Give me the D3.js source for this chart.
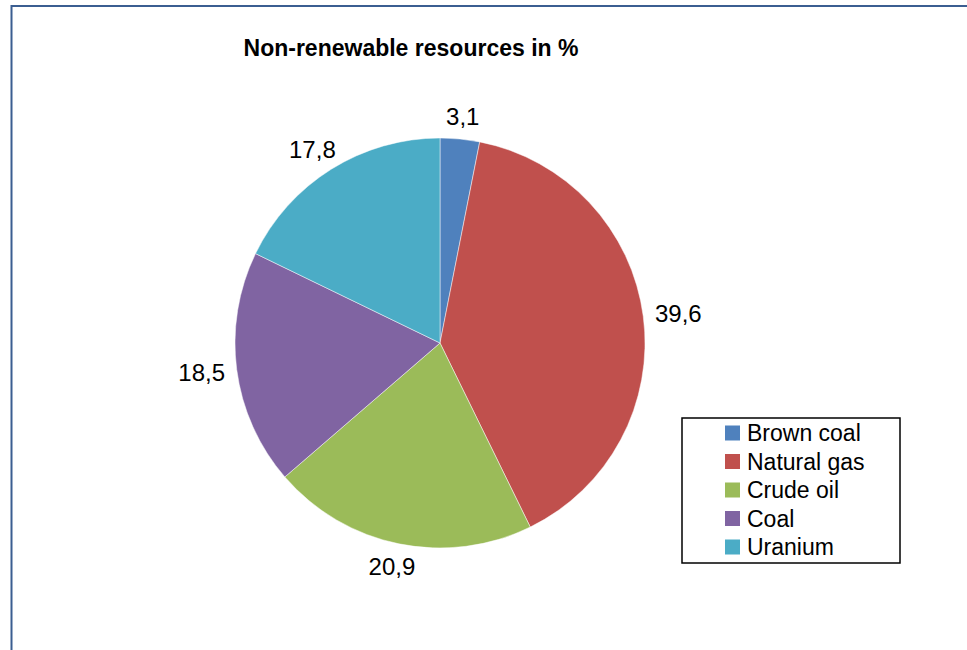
<!DOCTYPE html>
<html>
<head>
<meta charset="utf-8">
<script src="https://cdn.jsdelivr.net/npm/d3@7"></script>
<style>
  body { margin: 0; background: #fff; }
  svg { display: block; font-family: "Liberation Sans", Arial, sans-serif; }
</style>
</head>
<body>
<svg width="967" height="650"></svg>
<script>
var categories = ["Brown coal", "Natural gas", "Crude oil", "Coal", "Uranium"];
var values = [3.1, 39.6, 20.9, 18.5, 17.8];
var labels = ["3,1", "39,6", "20,9", "18,5", "17,8"];
var colors = ["#4F81BD", "#C0504D", "#9BBB59", "#8064A2", "#4BACC6"];
var title = "Non-renewable resources in %";

var svg = d3.select("svg");
var cx = 440, cy = 343, radius = 205;

// chart area border (runs off the right and bottom edges)
svg.append("rect")
   .attr("x", 11.5)
   .attr("y", 6)
   .attr("width", 1000)
   .attr("height", 700)
   .attr("fill", "none")
   .attr("stroke", "#3B5E91")
   .attr("stroke-width", 2);

svg.append("text")
   .attr("x", 411)
   .attr("y", 56)
   .attr("text-anchor", "middle")
   .style("font-size", "23px")
   .style("font-weight", "bold")
   .text(title);

var data = categories.map(function(c, i) {
    return {name: c, value: values[i], label: labels[i], color: colors[i]};
});

var pie = d3.pie().sort(null).value(function(d) { return d.value; });
var arc = d3.arc().innerRadius(0).outerRadius(radius);
var arcs = pie(data);

var g = svg.append("g").attr("transform", "translate(" + cx + "," + cy + ")");

g.selectAll("path")
 .data(arcs)
 .enter()
 .append("path")
 .attr("d", arc)
 .attr("fill", function(d) { return d.data.color; })
 .attr("stroke", "#ffffff")
 .attr("stroke-opacity", 0.6)
 .attr("stroke-width", 0.8);

// data labels just outside the pie, pushed out by half their box
var lr = radius + 12;
g.selectAll("text.lbl")
 .data(arcs)
 .enter()
 .append("text")
 .attr("class", "lbl")
 .attr("text-anchor", "middle")
 .attr("dominant-baseline", "central")
 .style("font-size", "24px")
 .text(function(d) { return d.data.label; })
 .each(function(d) {
     var a = (d.startAngle + d.endAngle) / 2;
     var hw = this.getComputedTextLength() / 2, hh = 11;
     var x = lr * Math.sin(a) + hw * Math.sin(a);
     var y = -lr * Math.cos(a) - hh * Math.cos(a);
     d3.select(this).attr("x", x).attr("y", y);
 });

// legend
var legend = svg.append("g").attr("transform", "translate(682,418)");
legend.append("rect")
      .attr("width", 218)
      .attr("height", 145)
      .attr("fill", "#fff")
      .attr("stroke", "#000")
      .attr("stroke-width", 1.5);

var rowY = d3.scalePoint().domain(categories).range([15, 129]);

var item = legend.selectAll("g.item")
                 .data(data)
                 .enter()
                 .append("g")
                 .attr("class", "item")
                 .attr("transform", function(d) { return "translate(0," + rowY(d.name) + ")"; });
item.append("rect")
    .attr("x", 43)
    .attr("y", -7.5)
    .attr("width", 15)
    .attr("height", 15)
    .attr("fill", function(d) { return d.color; });
item.append("text")
    .attr("x", 65)
    .attr("y", 0)
    .attr("dominant-baseline", "central")
    .style("font-size", "23px")
    .text(function(d) { return d.name; });
</script>
</body>
</html>
